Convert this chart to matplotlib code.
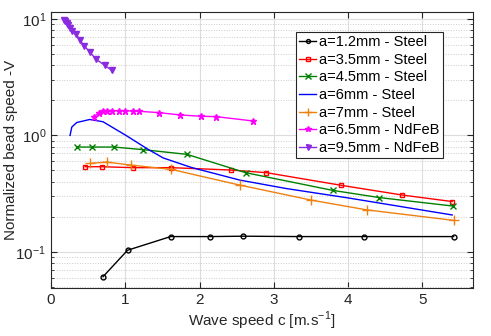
import numpy as np
import matplotlib
matplotlib.use("Agg")
import matplotlib.pyplot as plt
from matplotlib.ticker import LogLocator, NullFormatter

plt.rcParams['font.family'] = ['Liberation Sans', 'DejaVu Sans']
plt.rcParams['mathtext.fontset'] = 'custom'
plt.rcParams['mathtext.rm'] = 'Liberation Sans'

# a=1.2mm - Steel
x_12 = [0.70, 1.03, 1.61, 2.14, 2.58, 3.34, 4.21, 5.42]
y_12 = [0.061, 0.103, 0.135, 0.135, 0.136, 0.135, 0.135, 0.135]

# a=3.5mm - Steel
x_35 = [0.46, 0.68, 1.11, 1.62, 2.42, 2.90, 3.91, 4.73, 5.40]
y_35 = [0.538, 0.538, 0.528, 0.528, 0.504, 0.478, 0.372, 0.307, 0.270]

# a=4.5mm - Steel
x_45 = [0.354, 0.556, 0.85, 1.24, 1.83, 2.62, 3.79, 4.42, 5.41]
y_45 = [0.794, 0.794, 0.794, 0.754, 0.687, 0.478, 0.337, 0.292, 0.247]

# a=6mm - Steel (no markers)
x_6 = [0.256, 0.28, 0.346, 0.52, 0.70, 1.02, 1.29, 1.51, 1.89, 2.54, 3.17, 4.0, 4.7, 5.40]
y_6 = [1.0, 1.18, 1.29, 1.37, 1.31, 0.99, 0.77, 0.64, 0.53, 0.413, 0.349, 0.29, 0.245, 0.207]

# a=7mm - Steel
x_7 = [0.53, 0.75, 1.07, 1.62, 2.54, 3.50, 4.25, 5.42]
y_7 = [0.575, 0.59, 0.556, 0.51, 0.374, 0.278, 0.229, 0.186]

# a=6.5mm - NdFeB
x_65 = [0.58, 0.646, 0.70, 0.75, 0.82, 0.91, 1.0, 1.10, 1.19, 1.45, 1.73, 2.02, 2.22, 2.72]
y_65 = [1.45, 1.57, 1.62, 1.63, 1.63, 1.63, 1.63, 1.62, 1.61, 1.57, 1.50, 1.46, 1.45, 1.33]

# a=9.5mm - NdFeB
x_95 = [0.175, 0.19, 0.21, 0.233, 0.256, 0.287, 0.336, 0.39, 0.45, 0.525, 0.60, 0.72, 0.817]
y_95 = [9.8, 9.6, 9.3, 8.85, 8.4, 7.85, 7.46, 6.58, 5.85, 5.19, 4.55, 4.01, 3.63]

fig = plt.figure(figsize=(4.91, 3.36), dpi=100)
ax = fig.add_axes([0.1039, 0.1429, 0.8594, 0.8214])

lw = 1.0
ax.plot(x_12, y_12, '-o', color='black', lw=lw, ms=3.5, mfc='none', label='a=1.2mm - Steel')
ax.plot(x_35, y_35, '-s', color='red', lw=lw, ms=3.5, mfc='none', label='a=3.5mm - Steel')
ax.plot(x_45, y_45, '-x', color='#008000', lw=lw, ms=5, label='a=4.5mm - Steel')
ax.plot(x_6, y_6, '-', color='blue', lw=lw, label='a=6mm - Steel')
ax.plot(x_7, y_7, '-+', color='#EE8010', lw=lw, ms=7, label='a=7mm - Steel')
ax.plot(x_65, y_65, '-*', color='#FF00FF', lw=lw, ms=5, label='a=6.5mm - NdFeB')
ax.plot(x_95, y_95, '-v', color='#8A2BE2', lw=lw, ms=4.5, label='a=9.5mm - NdFeB')

ax.set_yscale('log')
ax.set_xlim(0, 5.68)
ax.set_ylim(0.0488, 11.5)
ax.set_xticks([0, 1, 2, 3, 4, 5])
ax.yaxis.set_minor_locator(LogLocator(base=10, subs=np.arange(2, 10)))
ax.yaxis.set_minor_formatter(NullFormatter())

ax.grid(True, which='major', color='#dddddd', lw=0.8)
ax.grid(True, which='minor', axis='y', color='#cccccc', ls=':', lw=0.7)
ax.set_axisbelow(True)

ax.tick_params(which='both', direction='in', top=True, right=True, labelsize=11, colors='#262626')
ax.tick_params(which='major', length=4)
ax.tick_params(which='minor', length=2)
for s in ax.spines.values():
    s.set_color('#262626')
    s.set_linewidth(0.8)

ax.set_xlabel('Wave speed c [m.s$^{-1}$]', fontsize=11, color='#262626', labelpad=2)
ax.set_ylabel('Normalized bead speed -V', fontsize=11, color='#262626')
ax.yaxis.set_label_coords(-0.078, 0.5)

leg = ax.legend(loc='upper right', bbox_to_anchor=(0.928, 0.927), fontsize=10.5,
                frameon=True, fancybox=False, edgecolor='#262626', framealpha=1,
                handlelength=1.2, handletextpad=0.2, borderpad=0.2, labelspacing=0.25,
                borderaxespad=0, markerscale=0.8)
leg.get_frame().set_linewidth(0.8)

fig.savefig('out.png', dpi=100)
